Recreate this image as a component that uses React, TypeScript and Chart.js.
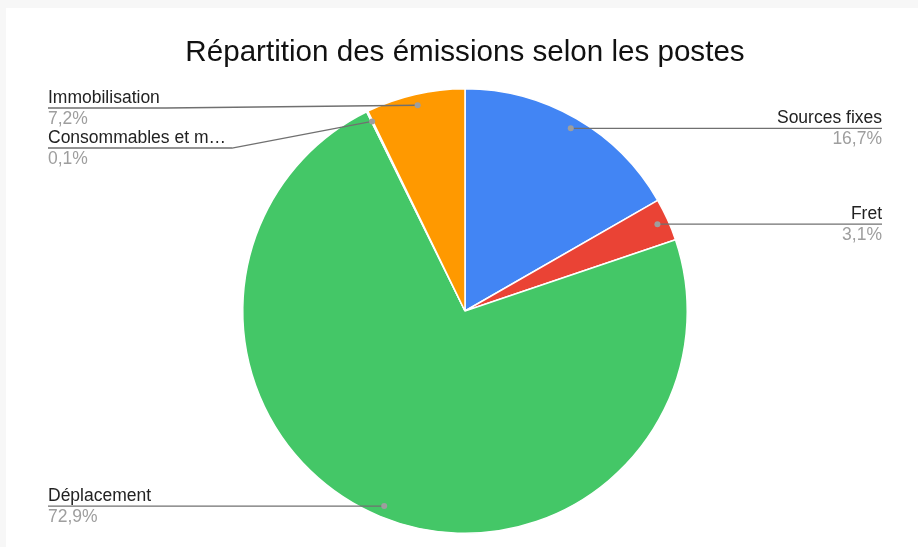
import React, { useEffect, useRef } from "react";
import { Chart, registerables } from "chart.js";

Chart.register(...registerables);

const TITLE = "Répartition des émissions selon les postes";
const CATEGORIES = ["Sources fixes", "Fret", "Déplacement", "Consommables et m…", "Immobilisation"];
const VALUES = [16.7, 3.1, 72.9, 0.1, 7.2];
const COLORS = ["#4285f4", "#ea4335", "#44c767", "#46bdc6", "#ff9900"];

const FONT = "'Liberation Sans', Arial, sans-serif";
const W = 912;
const H = 539;

const calloutPlugin = {
  id: "callouts",
  afterDatasetsDraw(chart: any) {
    const ctx: CanvasRenderingContext2D = chart.ctx;
    const meta = chart.getDatasetMeta(0);
    const area = chart.chartArea;
    const values: number[] = chart.data.datasets[0].data;
    const total = values.reduce((a, b) => a + b, 0);
    const labels: string[] = chart.data.labels;
    const LX = 42;
    const RX = chart.width - 36;
    const minY = area.top + 20;
    const gap = 40;
    const items: any[] = meta.data.map((arc: any, i: number) => {
      const p = arc.getProps(["x", "y", "startAngle", "endAngle", "outerRadius"], true);
      const mid = (p.startAngle + p.endAngle) / 2;
      const r = p.outerRadius * 0.95;
      const dx = p.x + Math.cos(mid) * r;
      const dy = p.y + Math.sin(mid) * r;
      return {
        i,
        dx,
        dy,
        side: Math.cos(mid) < 0 ? "left" : "right",
        name: labels[i],
        pct: ((values[i] / total) * 100).toFixed(1).replace(".", ",") + "%",
      };
    });
    ctx.save();
    ctx.font = `17.5px ${FONT}`;
    for (const side of ["left", "right"]) {
      const list = items.filter((it) => it.side === side).sort((a, b) => a.dy - b.dy);
      let prev = -Infinity;
      for (const it of list) {
        const ly = Math.max(it.dy, minY, prev + gap);
        prev = ly;
        const w = ctx.measureText(it.name).width;
        ctx.strokeStyle = "#707070";
        ctx.lineWidth = 1.3;
        ctx.beginPath();
        if (side === "left") {
          ctx.moveTo(LX, ly);
          ctx.lineTo(LX + w + 6, ly);
        } else {
          ctx.moveTo(RX, ly);
          ctx.lineTo(RX - w - 6, ly);
        }
        ctx.lineTo(it.dx, it.dy);
        ctx.stroke();
        ctx.fillStyle = "#9e9e9e";
        ctx.beginPath();
        ctx.arc(it.dx, it.dy, 3, 0, Math.PI * 2);
        ctx.fill();
        ctx.textAlign = side === "left" ? "left" : "right";
        ctx.textBaseline = "alphabetic";
        const tx = side === "left" ? LX : RX;
        ctx.fillStyle = "#222222";
        ctx.fillText(it.name, tx, ly - 5.3);
        ctx.fillStyle = "#9e9e9e";
        ctx.fillText(it.pct, tx, ly + 16);
      }
    }
    ctx.restore();
  },
};

export default function App() {
  const ref = useRef<HTMLCanvasElement>(null);
  useEffect(() => {
    document.body.style.margin = "0";
    document.body.style.background = "#f7f7f7";
    const chart = new Chart(ref.current!, {
      type: "pie",
      data: {
        labels: CATEGORIES,
        datasets: [
          {
            data: VALUES,
            backgroundColor: COLORS,
            borderColor: "#ffffff",
            borderWidth: 1.5,
          },
        ],
      },
      options: {
        responsive: false,
        animation: false,
        layout: { padding: { left: 6, right: 0, top: 0, bottom: 13 } },
        plugins: {
          legend: { display: false },
          tooltip: { enabled: false },
          title: {
            display: true,
            text: TITLE,
            color: "#111111",
            font: { family: FONT, size: 29.6, weight: "normal" },
            padding: { top: 26.8, bottom: 17.7 },
          },
        },
      },
      plugins: [calloutPlugin],
    });
    return () => chart.destroy();
  }, []);
  return (
    <div style={{ position: "absolute", left: 6, top: 8, width: W, height: H, background: "#ffffff" }}>
      <canvas ref={ref} width={W} height={H} />
    </div>
  );
}
